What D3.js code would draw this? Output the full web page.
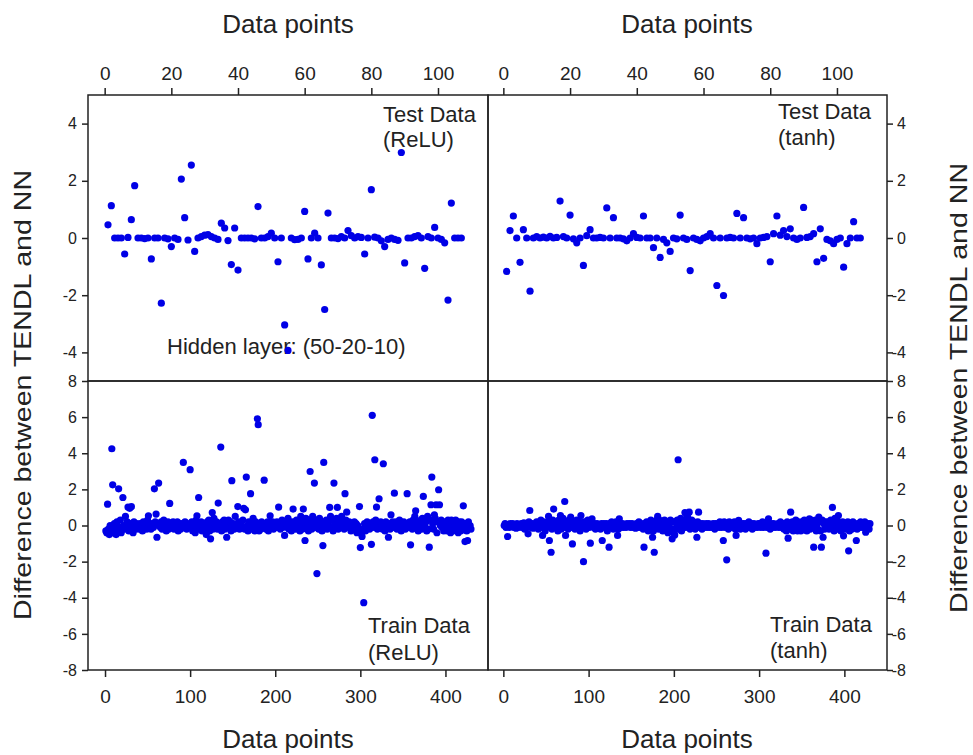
<!DOCTYPE html>
<html><head><meta charset="utf-8">
<script src="https://cdn.jsdelivr.net/npm/d3@7"></script>
<style>body{margin:0;background:#fff} text{font-family:"Liberation Sans",Arial,sans-serif;fill:#222}</style>
</head><body><svg id="c" width="973" height="755"></svg>
<script>
// Test data (points 1..107)
const testReLU = [
 0.46,1.13,0,0,0,-0.56,0.02,0.64,1.83,0,
 0,-0.02,0,-0.73,0,0,-2.28,0,-0.03,-0.3,
 0,-0.05,2.06,0.71,-0.07,2.55,-0.47,0,0.05,0.1,
 0.12,0.05,0,-0.05,0.52,0.35,-0.09,-0.93,0.35,-1.12,
 0,0,0,0,-0.03,1.1,0,0,0.05,0.17,
 0,-0.83,0,-3.04,-3.93,0,-0.06,-0.05,0,0.93,
 -0.73,0,0.17,0,-0.94,-2.5,0.87,0,0,-0.02,
 0.05,0,0.26,0.08,0,0.05,0.02,-0.56,0,1.69,
 0.03,0,-0.1,-0.3,-0.05,0,-0.05,-0.08,2.99,-0.87,
 0,0,0.05,0.08,0,-1.06,0.05,0,0.37,0,
 -0.05,-0.17,-2.17,1.22,0,0,0
];
const testTanh = [
 -1.17,0.26,0.77,0,-0.85,0.29,0,-1.86,0,0.05,
 0,0.03,0,0.06,0,0.02,1.29,0.05,0,0.8,
 -0.03,-0.17,0,-0.96,0.08,0.29,0,0,0.02,0,
 1.05,0,0.71,0,0,-0.03,-0.1,0,0.15,0.02,
 0,0.77,0,0,-0.34,0,-0.68,-0.05,-0.17,-0.47,
 0,-0.03,0.8,0,-0.05,-1.14,0,-0.05,-0.1,0,
 0.05,0.15,0,-1.66,0,-2.01,0,0.02,0,0.86,
 0,0.71,0,-0.03,0,-0.2,0,0.02,0.05,-0.83,
 0.15,0.77,0.1,0.26,0.05,0.32,0,-0.05,0,1.07,
 0.02,0.05,0.15,-0.83,0.32,-0.71,-0.05,-0.1,-0.2,-0.05,
 0,-1.02,-0.2,0,0.57,0,0
];
// Train data (points 1..430)
const trainReLU = [
 -.3,-.4,1.18,-.2,-.5,0,-.3,4.25,2.25,-.4,.1,-.2,-.5,.2,-.3,2.03,-.1,.3,-.4,-.1,
 1.55,0,-.2,.5,-.1,.2,1.02,-.3,.95,.1,1.04,-.1,-.4,.2,0,-.2,.1,-.1,0,-.2,
 .1,-.1,0,-.3,.2,0,-.1,.1,-.2,.3,.54,-.1,.1,-.2,0,.1,-.1,2.03,.2,.63,
 -.65,.1,2.35,0,-.1,.2,-.2,0,.3,-.1,.1,-.3,0,.2,-.2,1.22,.1,-.1,0,.2,
 -.2,0,.1,-.1,.2,-.3,0,.1,-.2,0,.1,3.49,-.1,.2,0,-.2,.1,-.1,0,3.09,
 -.1,.2,-.3,0,.1,-.4,.3,.54,-.2,1.55,0,-.1,.2,-.3,.1,0,-.2,.1,-.5,.2,
 -.1,.3,-.3,-.74,.1,.72,-.2,.4,0,-.1,.2,-.2,1.24,0,.1,4.34,-.3,.2,-.1,.3,
 -.2,.1,-.65,0,.3,-.1,.2,-.3,2.48,0,.1,-.2,.5,0,-.1,1.05,.2,-.2,.1,0,
 -.1,.3,.95,-.2,.87,2.68,0,-.3,.2,-.1,1.76,.1,-.2,.4,0,-.3,.2,-.1,5.91,5.58,
 -.3,.1,-.2,.2,0,-.1,2.51,.1,-.2,0,.2,-.3,.1,.54,-.1,0,.2,-.2,.1,-.1,
 0,.2,-.1,1.02,.1,-.2,0,.3,-.1,.1,-.55,0,.2,-.1,.4,-.2,.1,0,-.3,.2,
 .91,-.1,.1,-.2,.3,0,-.1,.2,-.3,.5,.1,-.2,.91,.2,-.83,.4,-.1,.1,-.3,.3,
 2.99,.2,-.2,.5,0,2.35,-.1,.3,-2.66,.1,-.2,.4,0,.2,-.3,-1.11,3.49,.1,-.1,.3,
 -.2,.2,0,1.0,.5,-.1,.3,-.3,2.35,.2,0,.4,1.0,-.2,.3,.1,-.1,.5,0,.2,
 -.2,1.76,.3,.74,.1,-.1,.2,0,-.3,.1,-.2,0,.2,-.1,.1,-.4,0,-.3,1.05,-1.22,
 -.4,-.61,-.2,-4.27,.1,-.3,0,.2,-.1,.1,-.2,0,-1.04,6.1,.2,-.1,3.64,.3,1.02,-.2,
 .1,1.48,-.1,.2,0,-.2,3.42,.1,-.3,.2,0,-.1,-.65,.1,-.2,.59,0,.2,-.1,1.79,
 0,.2,-.2,.1,-.1,.3,0,-.3,.1,-.1,.2,0,-.2,.1,1.76,0,-.1,.2,-1.07,.1,
 -.2,.3,0,.5,.81,-.1,.2,-.3,.1,0,.3,-.2,.4,1.61,0,-.1,.2,-.3,.5,-.2,
 -1.2,.3,1.15,2.68,.1,-.2,.59,.4,1.15,-.4,.2,1.98,1.15,0,.3,-.1,.2,-.3,.1,-.2,
 .2,-.3,.3,-.1,.2,-.4,.3,0,-.3,.2,-.1,.3,-.2,.1,-.4,.2,0,-.3,.2,-.1,
 1.09,-.2,-.89,.1,-.3,-.83,.2,-.1,0,-.2
];
const trainTanh = [
 0,.1,-.1,.05,-.61,0,-.1,.1,0,-.05,.1,-.1,0,.05,-.15,.1,0,-.1,.05,0,
 .1,-.1,0,.15,-.2,0,.1,-.1,-.46,.2,.83,-.1,0,.1,-.15,.05,0,-.1,.2,0,
 -.2,.1,0,.3,-.1,-.55,.2,0,-.3,.1,-.1,.2,.5,-.83,.1,-1.48,-.2,.3,.91,0,
 .2,-.1,.1,-.3,.3,0,.55,-.2,.1,.4,-.1,1.33,-.55,.2,0,-.2,.3,.1,.46,-.1,
 -1.02,.2,0,-.2,.1,.3,-.1,0,.2,-.3,.55,.1,-.1,-2.0,.2,0,-.2,.1,.3,0,
 -.1,-.98,.1,.37,0,-.1,.1,-.2,0,.1,-.1,0,.05,-.2,.1,-.83,0,.1,-.1,0,
 .1,-.3,0,-1.2,.1,-.1,.2,0,-.2,.1,-.1,.2,0,-.55,-.2,.37,.1,-.1,0,.1,
 -.1,0,.05,-.1,.1,0,-.05,.1,-.1,0,.1,-.1,.05,0,-.15,.1,0,-.1,.2,0,
 -.1,.1,0,-.2,-1.2,.1,-.1,.2,0,-.3,.1,-.2,.3,0,-.65,-.3,-1.48,.2,-.1,.3,
 .5,-.2,.3,0,-.1,.2,-.3,.1,.3,-.2,0,.2,-.4,.1,-.1,.3,-.2,-.74,.2,-.4,
 -.52,.2,-.1,.3,3.64,-.2,.1,.4,-.3,.2,0,.3,.72,-.1,.2,.5,0,.74,-.2,.1,
 .3,-.1,.2,0,-.2,.1,-.65,.2,.74,-.1,.1,0,-.2,.1,0,-.1,.05,.1,-.1,0,
 .1,-.1,0,.05,-.1,.1,0,-.2,.1,-.05,0,.1,-.1,.2,0,-.1,.1,-.83,.2,-.1,
 0,-1.9,.1,-.2,.2,0,-.1,.1,0,-.1,.2,-.2,-.55,.1,-.1,.28,0,-.2,.1,0,
 -.1,.1,0,-.2,.1,0,-.1,.2,0,-.1,.1,-.2,0,.1,-.1,.05,0,-.1,.1,0,
 .1,-.1,0,.2,-.1,0,.1,-1.53,-.1,.1,.37,0,-.2,.1,0,-.1,.1,0,-.1,.05,
 0,.1,-.1,0,.2,-.1,0,.1,-.2,0,.1,-.3,.2,-.7,-.2,.1,.74,-.1,.2,-.3,
 .1,-.2,.3,0,-.3,.2,-.1,.1,-.3,.2,0,-.2,.3,-.1,.1,-.3,.2,0,.37,-.2,
 .3,-.1,.2,-1.2,0,.3,-.3,.1,-.2,.46,.2,-.3,-1.2,.3,-.65,.1,-.2,.2,0,-.1,
 .2,-.2,.1,.3,-.1,1.0,.2,-.3,.4,.1,-.2,.2,.55,-.1,.1,-.3,0,.2,-.57,.1,
 -.2,.1,-.1,.2,-1.4,-.3,.1,0,-.2,.2,-.1,.1,0,-.83,-.2,.1,0,-.1,.2,0,
 -.1,.1,0,.2,-.37,-.1,.1,0,-.2,.1
];
// Tick values
const testXTicks = [0,20,40,60,80,100];
const trainXTicks = [0,100,200,300,400];
const testYTicks = [-4,-2,0,2,4];
const trainYTicks = [-8,-6,-4,-2,0,2,4,6,8];
const xTitle = "Data points";
const yTitle = "Difference between TENDL and NN";
const panelLabels = [["Test Data","(ReLU)"],["Test Data","(tanh)"],["Train Data","(ReLU)"],["Train Data","(tanh)"]];
const hiddenLabel = "Hidden layer: (50-20-10)";

const svg = d3.select("#c");
const fmt = d => String(d);

const panels = [
 {data:testReLU, xr:[88,488], yr:[381,95], xd:[-5,115], yd:[-5,5], xt:testXTicks, yt:testYTicks, xs:"top", ys:"left", lab:panelLabels[0], lx:383, ly:[122,147]},
 {data:testTanh, xr:[488,887], yr:[381,95], xd:[-4.6,115], yd:[-5,5], xt:testXTicks, yt:testYTicks, xs:"top", ys:"right", lab:panelLabels[1], lx:778, ly:[119,145]},
 {data:trainReLU, xr:[88,488], yr:[670,381], xd:[-20,450], yd:[-8,8], xt:trainXTicks, yt:trainYTicks, xs:"bottom", ys:"left", lab:panelLabels[2], lx:368, ly:[633,660]},
 {data:trainTanh, xr:[488,887], yr:[670,381], xd:[-18,450], yd:[-8,8], xt:trainXTicks, yt:trainYTicks, xs:"bottom", ys:"right", lab:panelLabels[3], lx:770, ly:[632,658]}
];

panels.forEach((p,pi) => {
  const x = d3.scaleLinear().domain(p.xd).range(p.xr);
  const y = d3.scaleLinear().domain(p.yd).range(p.yr);
  // x axis
  if (p.xs === "top") {
    const g = svg.append("g").attr("transform", `translate(0,${p.yr[1]})`)
      .call(d3.axisTop(x).tickValues(p.xt).tickFormat(fmt).tickSizeInner(7).tickSizeOuter(0).tickPadding(8));
    g.select(".domain").remove();
    g.selectAll(".tick line").attr("stroke","#222").attr("stroke-width",1.5);
    g.selectAll(".tick text").style("font-size","19px").attr("fill","#222");
  } else {
    const g = svg.append("g").attr("transform", `translate(0,${p.yr[0]})`)
      .call(d3.axisBottom(x).tickValues(p.xt).tickFormat(fmt).tickSizeInner(7).tickSizeOuter(0).tickPadding(13));
    g.select(".domain").remove();
    g.selectAll(".tick line").attr("stroke","#222").attr("stroke-width",1.5);
    g.selectAll(".tick text").style("font-size","19px").attr("fill","#222");
  }
  // y axis
  if (p.ys === "left") {
    const g = svg.append("g").attr("transform", `translate(${p.xr[0]},0)`)
      .call(d3.axisLeft(y).tickValues(p.yt).tickFormat(fmt).tickSizeInner(6).tickSizeOuter(0).tickPadding(5));
    g.select(".domain").remove();
    g.selectAll(".tick line").attr("stroke","#222").attr("stroke-width",1.5);
    g.selectAll(".tick text").style("font-size","16px").attr("fill","#222");
  } else {
    const g = svg.append("g").attr("transform", `translate(${p.xr[1]},0)`)
      .call(d3.axisRight(y).tickValues(p.yt).tickFormat(fmt).tickSizeInner(6).tickSizeOuter(0).tickPadding(5));
    g.select(".domain").remove();
    g.selectAll(".tick line").attr("stroke","#222").attr("stroke-width",1.5);
    g.selectAll(".tick text").style("font-size","16px").attr("fill","#222")
      .attr("text-anchor","end").attr("x", 19);
  }
  // frame
  svg.append("rect").attr("x",p.xr[0]).attr("y",p.yr[1])
    .attr("width",p.xr[1]-p.xr[0]).attr("height",p.yr[0]-p.yr[1])
    .attr("fill","none").attr("stroke","#222").attr("stroke-width",1.5);
  // labels
  p.lab.forEach((t,i) => {
    svg.append("text").attr("x",p.lx).attr("y",p.ly[i]).style("font-size","22px").text(t);
  });
  if (pi === 0) {
    svg.append("text").attr("x",167).attr("y",354).style("font-size","22px").text(hiddenLabel);
  }
  // points
  svg.append("g").selectAll("circle").data(p.data).join("circle")
    .attr("cx",(d,i)=>x(i+1)).attr("cy",d=>y(d)).attr("r",3.6)
    .attr("fill","#0000e6");
});

// titles
[[288,33],[687,33],[288,748],[687,748]].forEach(([cx,cy]) => {
  svg.append("text").attr("x",cx).attr("y",cy).attr("text-anchor","middle")
    .style("font-size","26px").text(xTitle);
});
[[31,395],[967,388]].forEach(([bx,cy]) => {
  svg.append("text").attr("transform",`translate(${bx},${cy}) rotate(-90)`)
    .attr("text-anchor","middle").style("font-size","24px")
    .attr("textLength",450).attr("lengthAdjust","spacingAndGlyphs").text(yTitle);
});
</script></body></html>
